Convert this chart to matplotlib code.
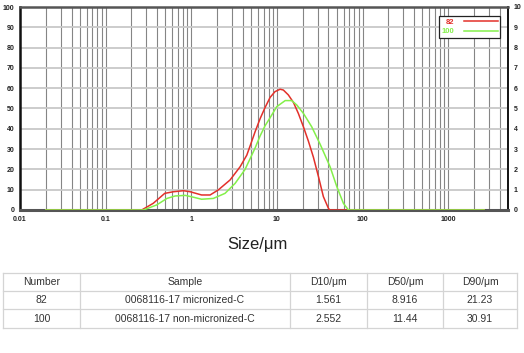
import numpy as np
import matplotlib.pyplot as plt
from matplotlib.ticker import LogLocator, FixedLocator, NullFormatter

plt.rcParams['font.family'] = ['Liberation Sans', 'DejaVu Sans']

# size distribution curves (size in um, volume %)
size_82 = [0.02, 0.264, 0.36, 0.49, 0.62, 0.81, 0.97, 1.32, 1.66, 2.07, 2.84, 3.72, 4.45,
           4.86, 5.56, 6.37, 7.28, 8.34, 9.5, 10.9, 11.9, 13.6, 15.6, 17.8, 20.4, 23.3,
           26.7, 30.6, 34.9, 40.0, 41.5, 2630]
vol_82 = [0, 0, 3.3, 8.2, 9.0, 9.5, 9.0, 7.4, 7.4, 9.9, 14.8, 21.3, 27.0,
          31.5, 38.5, 45.0, 50.5, 55.5, 58.3, 59.5, 59.1, 56.7, 53.0, 47.6, 41.0, 34.0,
          26.0, 16.4, 6.6, 0.8, 0, 0]

size_100 = [0.02, 0.276, 0.395, 0.52, 0.647, 0.85, 1.06, 1.32, 1.81, 2.48, 3.25, 4.25,
            5.56, 6.37, 7.28, 8.34, 9.96, 12.5, 14.9, 17.1, 20.4, 25.5, 32.0, 41.8, 50.1,
            59.8, 68.5, 2630]
vol_100 = [0, 0, 2.5, 5.7, 6.9, 7.2, 6.3, 5.3, 5.7, 8.2, 13.1, 20.0,
           30.5, 36.5, 41.5, 45.5, 50.9, 53.9, 53.9, 51.7, 47.6, 41.0, 32.4, 21.3, 11.5,
           3.3, 0, 0]

# results table
col_names = ["Number", "Sample", "D10/\u03bcm", "D50/\u03bcm", "D90/\u03bcm"]
numbers = ["82", "100"]
samples = ["0068116-17 micronized-C", "0068116-17 non-micronized-C"]
d10 = ["1.561", "2.552"]
d50 = ["8.916", "11.44"]
d90 = ["21.23", "30.91"]

W, H = 524, 353
fig = plt.figure(figsize=(W / 100, H / 100), dpi=100)
ax = fig.add_axes([20 / W, (H - 210) / H, 488 / W, 203 / H])

red = '#e3302a'
green = '#84f04a'
ax.plot(size_82, vol_82, color=red, lw=1.1, label='82', zorder=3)
ax.plot(size_100, vol_100, color=green, lw=1.1, label='100', zorder=4)

ax.set_xscale('log')
ax.set_xlim(0.01, 5000)
ax.set_ylim(0, 100)
ax.xaxis.set_major_locator(FixedLocator([0.01, 0.1, 1, 10, 100, 1000]))
ax.xaxis.set_major_formatter(plt.FixedFormatter(['0.01', '0.1', '1', '10', '100', '1000']))
ax.xaxis.set_minor_locator(LogLocator(base=10, subs=np.arange(2, 10), numticks=20))
ax.xaxis.set_minor_formatter(NullFormatter())
ax.set_yticks(np.arange(0, 101, 10))

ax.grid(True, which='both', axis='x', color='#858585', lw=0.8, zorder=1)
ax.grid(True, which='major', axis='y', color='#c8c8c8', lw=1.3, zorder=1)
ax.tick_params(which='both', length=0, labelsize=5, pad=4)
for lab in ax.get_xticklabels() + ax.get_yticklabels():
    lab.set_fontweight('bold')
    lab.set_color('#222222')

ax.spines['left'].set_linewidth(1.8)
ax.spines['left'].set_color('#111111')
ax.spines['right'].set_linewidth(1.4)
ax.spines['right'].set_color('#111111')
ax.spines['top'].set_linewidth(1.8)
ax.spines['top'].set_color('#555555')
ax.spines['bottom'].set_linewidth(2.2)
ax.spines['bottom'].set_color('#555555')

ax2 = ax.twinx()
ax2.set_ylim(0, 10)
ax2.set_yticks(np.arange(0, 11, 1))
ax2.tick_params(length=0, labelsize=5, pad=4)
for lab in ax2.get_yticklabels():
    lab.set_fontweight('bold')
    lab.set_color('#222222')
for s in ax2.spines.values():
    s.set_visible(False)

leg = ax.legend(loc='upper right', bbox_to_anchor=(480 / 488, 1 - 9 / 203),
                markerfirst=False, labelcolor='linecolor', fancybox=False,
                edgecolor='#222222', framealpha=1, fontsize=5.5, handlelength=4.4,
                handletextpad=1.3, borderpad=0.3, labelspacing=0.3, borderaxespad=0)
leg.get_frame().set_linewidth(0.9)
for t in leg.get_texts():
    t.set_fontweight('bold')

fig.text(257 / W, 1 - 245 / H, "Size/\u03bcm", ha='center', va='center',
         fontsize=12, color='#222222')

# table drawn in pixel coordinates
tab = fig.add_axes([0, 0, 1, 1])
tab.set_xlim(0, W)
tab.set_ylim(H, 0)
tab.axis('off')
col_x = [3, 80, 290, 367, 443, 517]
row_y = [272.7, 291, 309.3, 327.7]
for yy in row_y:
    tab.plot([col_x[0], col_x[-1]], [yy, yy], color='#d4d4d4', lw=0.9)
for xx in col_x:
    tab.plot([xx, xx], [row_y[0], row_y[-1]], color='#d4d4d4', lw=0.9)
rows = [col_names] + [[numbers[i], samples[i], d10[i], d50[i], d90[i]] for i in range(2)]
for r, row in enumerate(rows):
    yc = (row_y[r] + row_y[r + 1]) / 2
    for c, txt in enumerate(row):
        xc = (col_x[c] + col_x[c + 1]) / 2
        tab.text(xc, yc, txt, ha='center', va='center', fontsize=7.5, color='#333333')

fig.savefig('out.png', dpi=100)
